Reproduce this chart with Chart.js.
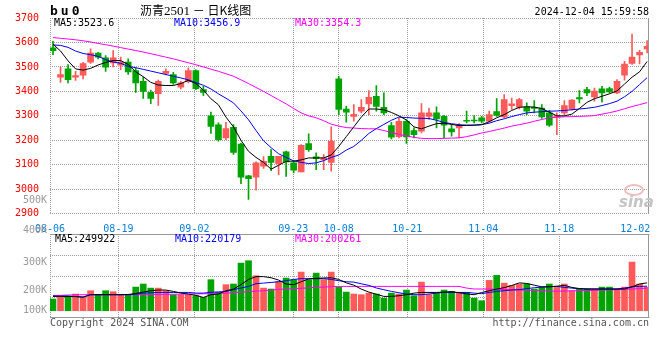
<!DOCTYPE html>
<html>
<head>
<meta charset="utf-8">
<script src="https://cdn.jsdelivr.net/npm/chart.js@4.4.1/dist/chart.umd.min.js"></script>
<style>
  body { margin: 0; background: #fff; }
  #wrap { position: relative; width: 660px; height: 360px; overflow: hidden; font-family: "DejaVu Sans Mono", monospace; font-size: 10px; }
  canvas { position: absolute; left: 0; }
  .t { position: absolute; white-space: nowrap; line-height: 12px; }
  .cjk { font-family: "Noto Sans CJK SC", sans-serif; font-size: 12px; line-height: 14px; }
</style>
</head>
<body>
<div id="wrap">
  <canvas id="kline" width="660" height="232" style="top:0"></canvas>
  <canvas id="vol" width="660" height="100" style="top:228px"></canvas>

  <div class="t" style="left:50px;top:4px;font-weight:bold;font-size:13px;line-height:14px;letter-spacing:3px">bu0</div>
  <div class="t cjk" style="left:140px;top:3px">沥青<span style="font-family:'Liberation Serif',serif;font-size:13px">2501</span> － 日K线图</div>
  <div class="t" style="right:11px;top:6px">2024-12-04 15:59:58</div>

  <div class="t" style="left:54px;top:17px;color:#000">MA5:3523.6</div>
  <div class="t" style="left:174px;top:17px;color:#0000ff">MA10:3456.9</div>
  <div class="t" style="left:295px;top:17px;color:#ff00ff">MA30:3354.3</div>

  <div class="t" style="left:55px;top:233px;color:#000">MA5:249922</div>
  <div class="t" style="left:175px;top:233px;color:#0000ff">MA10:220179</div>
  <div class="t" style="left:295px;top:233px;color:#ff00ff">MA30:200261</div>

  <div id="volLabels"></div>

  <div class="t" style="left:624px;top:184px;width:16px;height:8px;border:2px solid #f4bcbc;border-radius:50%"></div>
  <div class="t" style="left:619px;top:193px;font:italic bold 15px 'DejaVu Sans',sans-serif;color:#c4c4c4">sina</div>

  <div class="t" style="left:50px;top:317px;color:#555">Copyright 2024 SINA.COM</div>
  <div class="t" style="right:11px;top:317px;color:#555">http://finance.sina.com.cn</div>
</div>
<script>
const dates = ['08-06','08-07','08-08','08-09','08-12','08-13','08-14','08-15','08-16','08-19',
  '08-20','08-21','08-22','08-23','08-26','08-27','08-28','08-29','08-30','09-02',
  '09-03','09-04','09-05','09-06','09-09','09-10','09-11','09-12','09-13','09-18',
  '09-19','09-20','09-23','09-24','09-25','09-26','09-27','09-30','10-08','10-09',
  '10-10','10-11','10-14','10-15','10-16','10-17','10-18','10-21','10-22','10-23',
  '10-24','10-25','10-28','10-29','10-30','10-31','11-01','11-04','11-05','11-06',
  '11-07','11-08','11-11','11-12','11-13','11-14','11-15','11-18','11-19','11-20',
  '11-21','11-22','11-25','11-26','11-27','11-28','11-29','12-02','12-03','12-04'];

const open = [3578,3458,3492,3458,3466,3519,3557,3537,3516,3507,
  3520,3485,3441,3396,3391,3473,3469,3417,3441,3485,
  3407,3300,3263,3210,3253,3185,3055,3049,3094,3135,
  3105,3153,3108,3071,3187,3132,3121,3110,3451,3328,
  3298,3319,3349,3380,3335,3260,3215,3278,3240,3237,
  3298,3312,3298,3247,3251,3282,3282,3292,3278,3317,
  3296,3342,3335,3337,3335,3332,3312,3296,3312,3328,
  3375,3407,3377,3410,3411,3394,3466,3514,3549,3574];
const high = [3605,3499,3510,3482,3519,3574,3560,3546,3567,3540,
  3533,3496,3458,3405,3446,3492,3478,3441,3496,3488,
  3421,3315,3271,3273,3264,3189,3057,3112,3134,3162,
  3135,3156,3115,3183,3226,3149,3142,3255,3462,3339,
  3346,3366,3403,3424,3394,3274,3291,3285,3251,3350,
  3332,3337,3302,3264,3268,3319,3301,3298,3319,3371,
  3387,3373,3372,3353,3362,3346,3323,3312,3362,3366,
  3403,3417,3414,3421,3418,3448,3523,3634,3568,3608];
const low = [3550,3437,3435,3445,3451,3514,3533,3482,3500,3489,
  3469,3396,3371,3350,3343,3467,3428,3410,3435,3407,
  3383,3228,3196,3203,3142,3023,2958,2996,3085,3076,
  3060,3052,3067,3071,3155,3080,3080,3074,3305,3274,
  3278,3312,3305,3319,3305,3206,3210,3187,3210,3230,
  3285,3251,3210,3217,3210,3271,3271,3271,3274,3298,
  3292,3326,3328,3305,3312,3289,3257,3223,3305,3323,
  3353,3383,3360,3356,3394,3391,3446,3510,3512,3557];
const close = [3566,3469,3448,3465,3514,3557,3540,3499,3537,3520,
  3480,3435,3400,3371,3441,3482,3435,3435,3485,3411,
  3396,3257,3203,3248,3151,3049,3043,3108,3114,3110,
  3135,3112,3078,3180,3162,3125,3128,3196,3326,3315,
  3306,3335,3376,3339,3312,3213,3278,3214,3223,3312,
  3312,3287,3262,3234,3260,3278,3279,3278,3305,3302,
  3366,3349,3366,3319,3330,3296,3262,3301,3342,3364,
  3369,3394,3401,3394,3398,3441,3512,3540,3560,3584];

const ma5 = [3593,3565,3525,3492,3487,3494,3508,3518,3526,3526,
  3510,3480,3460,3437,3426,3424,3424,3432,3445,3432,
  3405,3370,3345,3295,3255,3200,3155,3130,3110,3082,
  3098,3114,3115,3120,3128,3128,3128,3140,3175,3215,
  3255,3295,3328,3328,3325,3314,3300,3283,3255,3247,
  3258,3268,3270,3265,3260,3261,3262,3264,3276,3292,
  3305,3322,3335,3337,3336,3330,3315,3300,3300,3307,
  3330,3355,3370,3380,3390,3402,3430,3458,3480,3522];
const ma10 = [3590,3588,3580,3565,3555,3550,3543,3530,3520,3515,
  3502,3497,3490,3483,3476,3469,3462,3455,3447,3436,
  3425,3410,3390,3372,3353,3320,3284,3240,3198,3170,
  3145,3130,3116,3110,3105,3108,3117,3130,3140,3160,
  3175,3200,3228,3248,3265,3282,3295,3293,3291,3290,
  3289,3282,3273,3268,3264,3262,3262,3264,3270,3280,
  3288,3297,3305,3312,3315,3317,3319,3320,3322,3325,
  3328,3331,3335,3342,3350,3360,3378,3400,3428,3456];
const ma30 = [3620,3617,3614,3611,3607,3602,3596,3591,3585,3579,
  3573,3567,3561,3554,3547,3540,3533,3525,3517,3509,
  3500,3491,3482,3472,3462,3447,3432,3416,3400,3383,
  3366,3349,3330,3312,3300,3292,3280,3266,3258,3252,
  3250,3248,3247,3247,3240,3232,3224,3218,3212,3208,
  3207,3207,3208,3209,3210,3215,3222,3230,3236,3243,
  3250,3258,3264,3270,3278,3285,3292,3294,3296,3297,
  3298,3299,3301,3307,3313,3320,3329,3338,3346,3354];

// volume in thousands of lots
const volume = [103,126,126,147,117,176,141,176,167,141,
  141,208,235,199,199,176,141,141,141,132,
  117,273,164,229,235,419,440,308,199,191,
  258,287,273,340,273,331,273,340,208,164,
  147,141,155,147,111,155,147,182,132,252,
  141,155,182,170,155,161,111,88,267,311,
  243,223,235,235,191,205,235,205,235,176,
  191,191,191,208,208,191,208,428,235,208];
const volMa5 = [126,126,126,124,120,141,141,141,141,141,
  143,152,164,176,182,182,170,155,147,135,
  117,141,147,176,190,230,275,300,300,290,
  270,235,229,255,280,285,288,290,275,245,
  225,190,164,145,126,126,132,141,155,161,
  161,161,163,168,158,148,141,160,176,190,
  203,222,245,240,225,210,210,216,223,205,
  195,191,191,191,191,191,191,210,235,245];
const volMa10 = [129,129,129,125,120,141,141,141,141,141,
  141,145,155,158,161,161,161,161,161,155,
  155,162,165,170,185,200,214,238,243,249,
  255,264,275,282,282,282,282,275,264,255,
  252,237,223,200,185,170,158,147,141,141,
  147,155,163,161,161,161,155,150,161,170,
  176,182,185,195,202,208,212,214,205,199,
  193,191,191,191,191,191,199,210,214,216];
const volMa30 = [135,135,138,140,141,141,141,141,141,141,
  141,141,141,142,143,144,145,146,147,148,
  149,150,152,155,158,164,167,173,176,182,
  188,191,194,197,202,206,208,212,214,214,
  214,214,214,214,214,214,214,214,214,214,
  214,214,214,214,214,199,191,191,191,188,
  187,185,183,180,178,176,173,172,173,176,
  176,179,179,182,183,185,188,191,194,199];

const xTickDates = ['08-06','08-19','09-02','09-23','10-08','10-21','11-04','11-18','12-02'];
const volTickLabels = ['500K','400K','300K','200K','100K'];
const volTickTops = [194, 224, 256, 284, 304];

const UP = '#ff5a5a', DOWN = '#00a300', GRID = '#a0a0a0';
const FONT = { family: 'DejaVu Sans Mono', size: 10 };

// candles sit 7.52px apart, 3px in from the left edge; date grid runs on a 7.6px step
const slot = 7.52, gridSlot = 7.6, plotW = 599;
const xMin = -3 / slot, xMax = (plotW - 3) / slot;
const gridPos = i => (gridSlot * i - 3) / slot;

const colors = close.map((c, i) => c >= open[i] ? UP : DOWN);
const pts = arr => arr.map((v, i) => ({ x: i, y: v }));

document.getElementById('volLabels').innerHTML = volTickLabels.map((t, k) =>
  '<div class="t" style="right:613px;top:' + volTickTops[k] + 'px;color:#9a9a9a">' + t + '</div>').join('');

// dotted grid (1px on, 1px off) on the scales' ticks, plus the solid parts of the frame
const framePlugin = {
  id: 'frame',
  beforeDatasetsDraw(chart) {
    const { ctx, chartArea: a, scales: { x, y } } = chart;
    const top = Math.round(a.top), bottom = Math.round(a.bottom);
    const left = Math.round(a.left), right = Math.round(a.right);
    ctx.save();
    ctx.fillStyle = GRID;
    x.ticks.forEach((t, k) => {
      if (k === x.ticks.length - 1) return; // no grid line under the last date label
      const px = Math.round(x.getPixelForValue(t.value) - 0.5);
      for (let py = top; py < bottom; py += 2) ctx.fillRect(px, py, 1, 1);
    });
    y.ticks.forEach(t => {
      const py = Math.min(Math.round(y.getPixelForValue(t.value) - 0.5), bottom - 1);
      for (let px = left; px < right; px += 2) ctx.fillRect(px, py, 1, 1);
    });
    ctx.restore();
  },
  afterDraw(chart, args, opts) {
    const { ctx, chartArea: a } = chart;
    const L = Math.round(a.left) + 0.5, R = Math.round(a.right) - 0.5;
    const T = Math.round(a.top) + 0.5, B = Math.round(a.bottom) - 0.5;
    ctx.save();
    ctx.strokeStyle = '#999';
    ctx.lineWidth = 1;
    ctx.beginPath();
    opts.sides.forEach(s => {
      if (s === 'top') { ctx.moveTo(L, T); ctx.lineTo(R + 1, T); }
      if (s === 'bottom') { ctx.moveTo(L, B); ctx.lineTo(R + 1, B); }
      if (s === 'right') { ctx.moveTo(R, T - 0.5); ctx.lineTo(R, B + 0.5); }
    });
    ctx.stroke();
    ctx.restore();
  }
};

function xScale(showLabels) {
  return {
    type: 'linear', min: xMin, max: xMax, offset: false,
    afterBuildTicks: s => { s.ticks = xTickDates.map(d => ({ value: gridPos(dates.indexOf(d)) })); },
    afterFit: s => { s.height = showLabels ? 18.3 : 0; s.paddingLeft = 0; s.paddingRight = 0; },
    ticks: {
      display: showLabels, autoSkip: false, maxRotation: 0, minRotation: 0,
      padding: 2, color: '#0a7fd8', font: FONT,
      callback: (v, i) => xTickDates[i]
    },
    grid: { display: false, offset: false },
    border: { display: false }
  };
}

const common = {
  responsive: false,
  animation: false,
  devicePixelRatio: 1,
  events: [],
};

new Chart(document.getElementById('kline'), {
  type: 'bar',
  data: {
    datasets: [
      { type: 'line', data: pts(ma5), borderColor: '#000', borderWidth: 1, pointRadius: 0, tension: 0 },
      { type: 'line', data: pts(ma10), borderColor: '#0000ff', borderWidth: 1, pointRadius: 0, tension: 0 },
      { type: 'line', data: pts(ma30), borderColor: '#ff00ff', borderWidth: 1, pointRadius: 0, tension: 0 },
      { data: open.map((o, i) => ({ x: i, y: [Math.min(o, close[i]), Math.max(o, close[i])] })),
        backgroundColor: colors, barThickness: 6, minBarLength: 1, grouped: false, borderWidth: 0 },
      { data: open.map((o, i) => ({ x: i, y: [low[i], high[i]] })),
        backgroundColor: colors, barThickness: 1, grouped: false, borderWidth: 0 }
    ]
  },
  options: {
    ...common,
    layout: { padding: { left: 0, right: 11, top: 18, bottom: 0 } },
    scales: {
      x: xScale(true),
      y: {
        min: 2900, max: 3700,
        ticks: { stepSize: 100, color: '#f00', font: FONT, padding: 3, callback: v => String(v) },
        grid: { display: false },
        border: { display: false },
        afterFit: s => { s.width = 50; s.paddingTop = 0; s.paddingBottom = 0; }
      }
    },
    plugins: { legend: { display: false }, tooltip: { enabled: false }, frame: { sides: ['right'] } }
  },
  plugins: [framePlugin]
});

const volMin = -64, volMax = 675;
new Chart(document.getElementById('vol'), {
  type: 'bar',
  data: {
    datasets: [
      { type: 'line', data: pts(volMa5), borderColor: '#000', borderWidth: 1, pointRadius: 0, tension: 0 },
      { type: 'line', data: pts(volMa10), borderColor: '#0000ff', borderWidth: 1, pointRadius: 0, tension: 0 },
      { type: 'line', data: pts(volMa30), borderColor: '#ff00ff', borderWidth: 1, pointRadius: 0, tension: 0 },
      { data: pts(volume), backgroundColor: colors, barThickness: 6, grouped: false, borderWidth: 0 }
    ]
  },
  options: {
    ...common,
    layout: { padding: { left: 0, right: 11, top: 6, bottom: 10 } },
    scales: {
      x: xScale(false),
      y: {
        min: volMin, max: volMax,
        afterBuildTicks: s => { s.ticks = [0, 1, 2, 3, 4].map(k => ({ value: volMin + k * (volMax - volMin) / 4 })); },
        ticks: { display: false },
        grid: { display: false },
        border: { display: false },
        afterFit: s => { s.width = 50; s.paddingTop = 0; s.paddingBottom = 0; }
      }
    },
    plugins: { legend: { display: false }, tooltip: { enabled: false }, frame: { sides: ['top', 'bottom', 'right'] } }
  },
  plugins: [framePlugin]
});
</script>
</body>
</html>
